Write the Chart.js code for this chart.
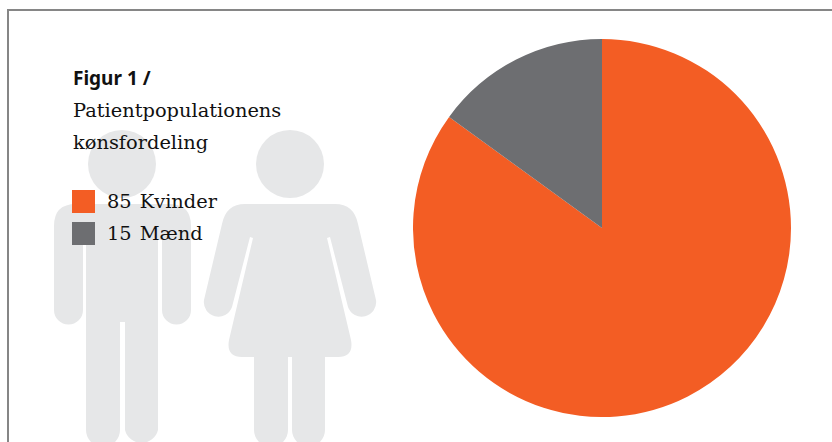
<!DOCTYPE html>
<html lang="da">
<head>
<meta charset="utf-8">
<title>Patientpopulationens kønsfordeling</title>
<script src="https://cdn.jsdelivr.net/npm/chart.js@4/dist/chart.umd.min.js"></script>
<style>
  html, body { margin: 0; padding: 0; background: #fff; }
  #stage { position: relative; width: 832px; height: 442px; overflow: hidden; }
  #frame { position: absolute; left: 7px; top: 9px; width: 900px; height: 500px; border: 2px solid #868686; box-sizing: border-box; }
  #people { position: absolute; left: 0; top: 0; }
  #pie-box { position: absolute; left: 413px; top: 39px; width: 378px; height: 378px; }
  .txt { position: absolute; white-space: nowrap; color: #111; font-family: "DejaVu Serif", serif; font-size: 19.4px; line-height: 32px; }
  #fig { left: 73px; top: 62px; font-family: "Noto Sans", sans-serif; font-weight: 700; font-size: 19px; }
  #t1 { left: 73px; top: 95px; }
  #t2 { left: 73px; top: 127px; }
  .swatch { position: absolute; left: 72px; width: 23px; height: 23px; }
  .leg { left: 107px; }
  .leg b { font-weight: 400; margin-right: 8px; }
</style>
</head>
<body>
<div id="stage">
  <div id="frame"></div>
  <!-- Man and woman silhouettes behind the text -->
  <svg id="people" width="832" height="442" fill="#e6e7e8">
    <circle cx="122" cy="164" r="34"/>
    <path d="M54 226 Q54 204 76 204 H169 Q191 204 191 226 V310 A14.5 14.5 0 0 1 162 310 V240 H158 V430 A17 17 0 0 1 125 430 V322 H120 V430 A17 17 0 0 1 86 430 V240 H83 V310 A14.5 14.5 0 0 1 54 310 Z"/>
    <circle cx="290" cy="164" r="34"/>
    <path d="M222 224 Q226 204 245 204 H335 Q354 204 358 224 L376 300 A14.5 14.5 0 0 1 348 307 L330 237 L327 238 L351 340 Q354 357 338 357 H325 V430 A16.5 16.5 0 0 1 292 430 V357 H288 V430 A17 17 0 0 1 254 430 V357 H242 Q226 357 229 340 L253 238 L250 237 L232 307 A14.5 14.5 0 0 1 204 300 Z"/>
  </svg>
  <div id="pie-box"><canvas id="pie" width="378" height="378"></canvas></div>
  <div class="txt" id="fig"></div>
  <div class="txt" id="t1"></div>
  <div class="txt" id="t2"></div>
  <div id="legend"></div>
</div>
<script>
const titleLabel = "Figur 1 /";
const titleLines = ["Patientpopulationens", "kønsfordeling"];
const categories = ["Kvinder", "Mænd"];
const shares = [85, 15];
const sliceColors = ["#f35d24", "#6d6e71"];

document.getElementById("fig").textContent = titleLabel;
document.getElementById("t1").textContent = titleLines[0];
document.getElementById("t2").textContent = titleLines[1];

// Legend rows: colour swatch, share and category name
const legend = document.getElementById("legend");
categories.forEach((name, i) => {
  const top = 190 + i * 32;
  const swatch = document.createElement("div");
  swatch.className = "swatch";
  swatch.style.top = top + "px";
  swatch.style.background = sliceColors[i];
  legend.appendChild(swatch);
  const row = document.createElement("div");
  row.className = "txt leg";
  row.style.top = (top - 4) + "px";
  const value = document.createElement("b");
  value.textContent = shares[i];
  row.appendChild(value);
  row.appendChild(document.createTextNode(name));
  legend.appendChild(row);
});

new Chart(document.getElementById("pie"), {
  type: "pie",
  data: {
    labels: categories,
    datasets: [{ data: shares, backgroundColor: sliceColors, borderWidth: 0 }]
  },
  options: {
    responsive: false,
    animation: false,
    layout: { padding: 0 },
    plugins: { legend: { display: false }, tooltip: { enabled: false } }
  }
});
</script>
</body>
</html>
